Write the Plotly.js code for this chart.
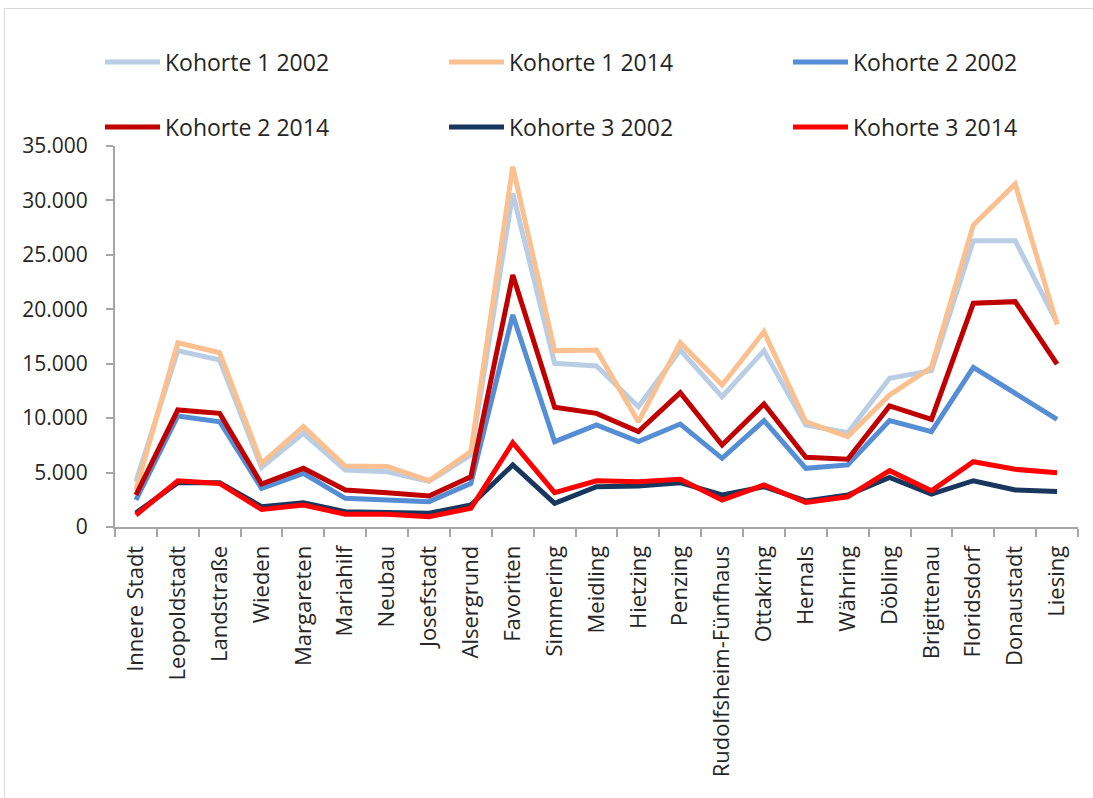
<!DOCTYPE html>
<html><head><meta charset="utf-8">
<script src="https://cdn.plot.ly/plotly-3.0.1.min.js"></script>
<style>
html,body{margin:0;padding:0;background:#fff;overflow:hidden;}
#frame{position:absolute;left:4px;top:8px;width:1200px;height:900px;border:1px solid #d9d9d9;box-sizing:border-box;}
#chart{position:absolute;left:0;top:0;width:1093px;height:798px;}
</style></head>
<body>
<div id="frame"></div>
<div id="chart"></div>
<script>
const districts = ["Innere Stadt","Leopoldstadt","Landstraße","Wieden","Margareten","Mariahilf","Neubau","Josefstadt","Alsergrund","Favoriten","Simmering","Meidling","Hietzing","Penzing","Rudolfsheim-Fünfhaus","Ottakring","Hernals","Währing","Döbling","Brigittenau","Floridsdorf","Donaustadt","Liesing"];
const k1_2002 = [4160,16200,15340,5480,8600,5240,5080,4200,6610,30650,15040,14790,11050,16260,11970,16200,9370,8660,13660,14360,26300,26300,18750];
const k1_2014 = [3400,16930,16010,5850,9210,5600,5560,4250,6920,33100,16200,16260,9670,16930,13040,17940,9670,8300,12130,14670,27740,31510,18600];
const k2_2002 = [2480,10200,9670,3550,4930,2630,2480,2330,4010,19480,7840,9370,7840,9460,6310,9770,5390,5700,9770,8760,14670,12280,9890];
const k2_2014 = [2940,10750,10440,3950,5390,3400,3150,2850,4620,23150,11000,10440,8760,12340,7530,11300,6400,6220,11120,9890,20550,20700,14970];
const k3_2002 = [1290,4070,4070,1870,2230,1410,1330,1260,2020,5700,2170,3700,3770,4070,2940,3700,2400,2940,4560,3030,4250,3400,3250];
const k3_2014 = [1100,4250,4000,1620,2020,1170,1170,950,1720,7740,3150,4250,4160,4380,2480,3860,2250,2780,5170,3330,6000,5300,4990];
const seriesNames = ["Kohorte 1 2002","Kohorte 1 2014","Kohorte 2 2002","Kohorte 2 2014","Kohorte 3 2002","Kohorte 3 2014"];
const seriesData = [k1_2002,k1_2014,k2_2002,k2_2014,k3_2002,k3_2014];
const colors = ["#B9CDE5","#FAC090","#558ED5","#C00000","#17375E","#FF0000"];
const yTicks = [0,5000,10000,15000,20000,25000,30000,35000];

const legendIds = ['legend','legend2','legend3','legend4','legend5','legend6'];
const traces = seriesData.map((d,i)=>({
  type:'scatter', mode:'lines', x:districts, y:d, name:seriesNames[i],
  line:{color:colors[i], width:5, shape:'linear'},
  legend: legendIds[i],
  hoverinfo:'skip'
}));

const fam = '"Open Sans", sans-serif';
const layout = {
  width:1093, height:798,
  paper_bgcolor:'rgba(0,0,0,0)', plot_bgcolor:'rgba(0,0,0,0)',
  margin:{l:115, r:15, t:146, b:271, pad:0, autoexpand:false},
  separators:',.',
  font:{family:fam, size:21, color:'#262626'},
  showlegend:true,
  xaxis:{
    type:'category', tickmode:'array', tickvals:districts, ticktext:districts,
    tickangle:-90, showgrid:false, zeroline:false,
    showline:true, linecolor:'#a6a6a6', linewidth:2,
    ticks:'outside', ticklen:8, tickwidth:2, tickcolor:'#a6a6a6',
    tickson:'boundaries', range:[-0.5,22.5], ticklabelstandoff:8,
    tickfont:{family:fam, size:22, color:'#262626'}, fixedrange:true
  },
  yaxis:{
    range:[0,35000], tickmode:'array', tickvals:yTicks,
    tickformat:',d', showgrid:false, zeroline:false,
    showline:true, linecolor:'#a6a6a6', linewidth:2,
    ticks:'outside', ticklen:7, tickwidth:2, tickcolor:'#a6a6a6',
    ticklabelstandoff:14, tickfont:{family:fam, size:21, color:'#262626'}, fixedrange:true
  }
};
legendIds.forEach((id,i)=>{
  const col = i%3, row = Math.floor(i/3);
  layout[id] = {
    orientation:'h', xref:'container', yref:'container', xanchor:'left', yanchor:'middle',
    x:(100 + col*344)/1093, y:1-(62 + row*65)/798, itemwidth:55,
    font:{family:fam, size:23, color:'#262626'},
    bgcolor:'rgba(0,0,0,0)', borderwidth:0
  };
});
Plotly.newPlot('chart', traces, layout, {displayModeBar:false, staticPlot:true});
</script>
</body></html>
